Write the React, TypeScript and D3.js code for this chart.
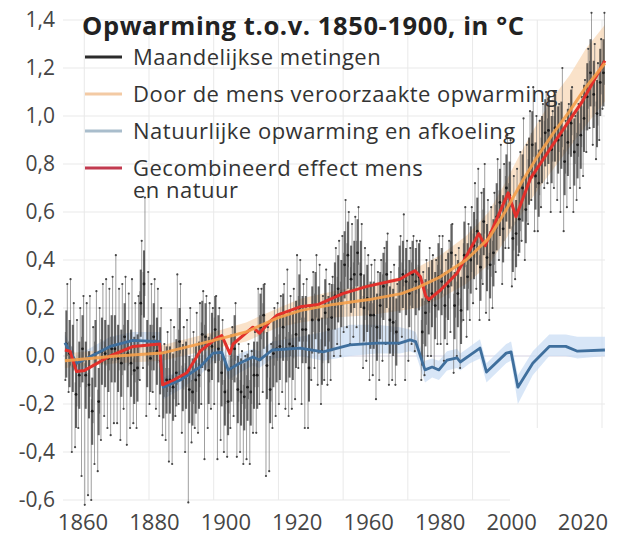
import React from "react";
import * as d3 from "d3";

const W = 617;
const H = 535;
const FONT = "'Open Sans', sans-serif";

// as/ticks
const yTicks = [1.4, 1.2, 1.0, 0.8, 0.6, 0.4, 0.2, 0, -0.2, -0.4, -0.6];
const gridYears = [1860, 1880, 1900, 1920, 1940, 1960, 1980, 2000, 2020];
const xLabels = ["1860", "1880", "1900", "1920", "1960", "1980", "2000", "2020"];

// maandelijkse metingen, per jaar samengevat (vanaf 1854)
const firstYear = 1854;
const obsHi = [
  0.30, 0.32, 0.22, 0.15, 0.20, 0.25,
  0.22, 0.25, 0.12, 0.27, 0.20, 0.30, 0.32, 0.28, 0.33, 0.42,
  0.28, 0.30, 0.33, 0.26, 0.32, 0.22, 0.25, 0.48, 0.66, 0.35,
  0.30, 0.32, 0.28, 0.20, 0.05, 0.10, 0.15, 0.12, 0.34, 0.30,
  0.12, 0.15, 0.20, 0.10, 0.18, 0.22, 0.27, 0.25, 0.22, 0.20,
  0.25, 0.20, 0.15, 0.05, 0.02, 0.12, 0.22, 0.05, 0.02, 0.00,
  0.05, 0.02, 0.10, 0.28, 0.28, 0.30, 0.12, 0.05, 0.20, 0.22,
  0.25, 0.30, 0.36, 0.25, 0.28, 0.42, 0.40, 0.30, 0.32, 0.20,
  0.35, 0.42, 0.38, 0.25, 0.36, 0.30, 0.33, 0.45, 0.48, 0.50,
  0.65, 0.60, 0.55, 0.58, 0.62, 0.55, 0.45, 0.42, 0.38, 0.40,
  0.35, 0.40, 0.45, 0.51, 0.35, 0.38, 0.30, 0.50, 0.59, 0.48,
  0.45, 0.50, 0.48, 0.48, 0.35, 0.40, 0.45, 0.42, 0.40, 0.50,
  0.50, 0.40, 0.48, 0.55, 0.42, 0.45, 0.38, 0.62, 0.55, 0.62,
  0.72, 0.78, 0.68, 0.80, 0.65, 0.62, 0.68, 0.82, 0.88, 0.80,
  0.92, 0.90, 0.75, 0.78, 0.85, 0.99, 0.88, 1.02, 1.12, 1.00,
  0.98, 1.05, 1.10, 1.08, 1.02, 1.10, 1.05, 1.20, 0.98, 1.05,
  1.12, 1.00, 1.05, 1.08, 1.15, 1.28, 1.43, 1.30, 1.22, 1.32, 1.43,
];
const obsLo = [
  -0.10, -0.15, -0.40, -0.38, -0.30, -0.50,
  -0.62, -0.58, -0.60, -0.45, -0.48, -0.35, -0.25, -0.30, -0.33, -0.28,
  -0.28, -0.35, -0.22, -0.37, -0.30, -0.28, -0.30, -0.10, -0.05, -0.25,
  -0.20, -0.15, -0.22, -0.25, -0.33, -0.35, -0.44, -0.45, -0.25, -0.20,
  -0.32, -0.40, -0.61, -0.36, -0.30, -0.32, -0.20, -0.43, -0.30, -0.22,
  -0.20, -0.43, -0.35, -0.40, -0.42, -0.30, -0.25, -0.42, -0.40, -0.45,
  -0.43, -0.45, -0.32, -0.32, -0.20, -0.15, -0.50, -0.48, -0.30, -0.25,
  -0.20, -0.15, -0.22, -0.25, -0.22, -0.18, -0.05, -0.20, -0.30, -0.30,
  -0.10, -0.05, -0.12, -0.20, -0.10, -0.12, -0.10, 0.00, 0.05, 0.00,
  0.10, 0.12, 0.05, 0.08, 0.12, 0.05, -0.05, -0.02, -0.10, -0.08,
  -0.18, -0.10, -0.02, 0.05, -0.12, -0.10, -0.12, 0.05, 0.08, -0.10,
  -0.02, 0.05, 0.02, 0.03, -0.10, -0.08, 0.00, 0.00, -0.05, 0.05,
  0.05, -0.02, 0.05, 0.10, -0.07, 0.00, -0.05, 0.15, 0.08, 0.15,
  0.22, 0.28, 0.15, 0.30, 0.18, 0.15, 0.20, 0.35, 0.40, 0.30,
  0.45, 0.45, 0.29, 0.32, 0.42, 0.48, 0.40, 0.55, 0.65, 0.52,
  0.52, 0.62, 0.70, 0.72, 0.60, 0.70, 0.65, 0.60, 0.52, 0.62,
  0.70, 0.60, 0.65, 0.70, 0.75, 0.85, 0.95, 0.88, 0.82, 0.90, 1.03,
];
const obsMid = [
  0.05, 0.01, -0.01, -0.16, -0.08, 0.03,
  -0.08, -0.12, -0.23, 0.01, -0.19, 0.02, 0.01, -0.01, 0.03, 0.03,
  -0.01, -0.03, 0.08, 0.01, -0.03, -0.06, -0.05, 0.22, 0.30, 0.01,
  -0.01, 0.08, 0.02, -0.02, -0.12, -0.10, -0.10, -0.13, -0.07, 0.06,
  -0.09, -0.08, -0.14, -0.15, -0.10, -0.08, 0.09, 0.08, -0.06, 0.04,
  0.11, 0.03, -0.07, -0.15, -0.19, -0.05, 0.03, -0.14, -0.15, -0.17,
  -0.13, -0.15, -0.08, -0.08, 0.12, 0.17, -0.04, -0.14, 0.01, 0.03,
  0.04, 0.12, 0.03, 0.05, 0.04, 0.09, 0.20, 0.11, 0.11, -0.05,
  0.15, 0.21, 0.15, 0.02, 0.18, 0.11, 0.16, 0.25, 0.28, 0.26,
  0.38, 0.42, 0.32, 0.34, 0.43, 0.34, 0.20, 0.24, 0.17, 0.17,
  0.12, 0.21, 0.29, 0.34, 0.15, 0.14, 0.10, 0.32, 0.34, 0.31,
  0.26, 0.34, 0.31, 0.33, 0.10, 0.18, 0.23, 0.26, 0.21, 0.33,
  0.31, 0.21, 0.29, 0.43, 0.21, 0.26, 0.19, 0.42, 0.33, 0.40,
  0.46, 0.52, 0.37, 0.56, 0.41, 0.38, 0.43, 0.58, 0.64, 0.53,
  0.70, 0.67, 0.49, 0.51, 0.57, 0.70, 0.61, 0.77, 0.88, 0.75,
  0.72, 0.86, 0.93, 0.94, 0.86, 0.95, 0.90, 0.92, 0.81, 0.89,
  0.97, 0.85, 0.88, 0.92, 0.99, 1.08, 1.18, 1.09, 1.01, 1.14, 1.18,
];

// gecombineerd effect mens en natuur
const redYears = [
  1854.0, 1855.6, 1857.6, 1860.1, 1868.0, 1875.1, 1883.3, 1884.2, 1887.6, 1891.7,
  1895.8, 1900.9, 1902.5, 1905.0, 1906.0, 1912.1, 1914.1, 1917.1, 1919.6, 1926.7,
  1932.4, 1939.9, 1947.4, 1957.5, 1960.7, 1962.2, 1963.9, 1965.5, 1966.5, 1970.1,
  1975.2, 1981.9, 1983.9, 1991.0, 1993.4, 1997.9, 2006.8, 2013.9, 2020.9,
];
const redValues = [
  0.025, 0.02, -0.065, -0.06, 0.0, 0.04, 0.05, -0.12, -0.1, -0.07,
  0.02, 0.075, 0.085, 0.01, 0.05, 0.12, 0.095, 0.14, 0.17, 0.205,
  0.215, 0.26, 0.29, 0.32, 0.345, 0.355, 0.33, 0.25, 0.235, 0.275,
  0.345, 0.51, 0.46, 0.68, 0.58, 0.74, 0.92, 1.06, 1.23,
];

// natuurlijke opwarming en afkoeling
const blueYears = [
  1854.0, 1857.7, 1860.1, 1868.0, 1875.0, 1883.3, 1884.4, 1889.7, 1895.8, 1899.8,
  1902.5, 1904.5, 1908.0, 1912.1, 1914.1, 1918.1, 1926.7, 1933.8, 1942.1, 1950.4,
  1957.5, 1960.7, 1962.4, 1965.3, 1967.5, 1969.6, 1972.1, 1975.2, 1976.2, 1979.2,
  1982.3, 1984.3, 1990.4, 1991.9, 1994.0, 1998.6, 2003.7, 2008.8, 2012.4, 2020.9,
];
const blueValues = [
  0.055, -0.03, -0.015, 0.04, 0.065, 0.06, -0.13, -0.1, -0.045, 0.012,
  0.015, -0.058, -0.03, -0.004, -0.017, 0.025, 0.033, 0.017, 0.046, 0.054,
  0.054, 0.067, 0.06, -0.058, -0.046, -0.058, -0.017, -0.008, -0.025, 0.004,
  0.033, -0.067, 0.012, 0.017, -0.13, -0.03, 0.04, 0.04, 0.02, 0.025,
];
const blueLo = [
  0.02, -0.07, -0.05, 0.0, 0.03, 0.02, -0.18, -0.14, -0.08, -0.02,
  -0.02, -0.1, -0.07, -0.04, -0.05, -0.01, 0.0, -0.02, 0.0, 0.01,
  0.01, 0.02, 0.01, -0.11, -0.09, -0.1, -0.06, -0.05, -0.06, -0.03,
  -0.01, -0.11, -0.03, -0.02, -0.2, -0.08, 0.0, 0.0, -0.01, 0.0,
];
const blueHi = [
  0.09, 0.0, 0.02, 0.08, 0.1, 0.1, -0.09, -0.06, -0.01, 0.05,
  0.05, -0.02, 0.01, 0.03, 0.02, 0.06, 0.08, 0.1, 0.13, 0.13,
  0.12, 0.11, 0.1, -0.02, -0.01, -0.02, 0.02, 0.03, 0.01, 0.04,
  0.07, -0.03, 0.05, 0.06, -0.08, 0.02, 0.09, 0.09, 0.08, 0.08,
];

// door de mens veroorzaakte opwarming
const orangeYears = [
  1854, 1870, 1884, 1900, 1910, 1920, 1927, 1937, 1948, 1958,
  1963, 1970, 1978, 1985, 1990, 1995, 2000, 2005, 2010, 2015, 2020.9,
];
const orangeValues = [
  -0.02, 0.0, 0.012, 0.065, 0.1, 0.16, 0.19, 0.215, 0.235, 0.26,
  0.285, 0.33, 0.4, 0.49, 0.6, 0.72, 0.83, 0.93, 1.02, 1.12, 1.22,
];
const orangeLo = [
  -0.05, -0.03, -0.02, 0.03, 0.06, 0.12, 0.14, 0.16, 0.17, 0.19,
  0.2, 0.24, 0.3, 0.38, 0.48, 0.59, 0.69, 0.78, 0.87, 0.96, 1.06,
];
const orangeHi = [
  0.01, 0.03, 0.045, 0.1, 0.14, 0.2, 0.24, 0.27, 0.3, 0.33,
  0.37, 0.42, 0.5, 0.6, 0.72, 0.85, 0.97, 1.08, 1.17, 1.28, 1.38,
];

const legendLabels = [
  ["Maandelijkse metingen"],
  ["Door de mens veroorzaakte opwarming"],
  ["Natuurlijke opwarming en afkoeling"],
  ["Gecombineerd effect mens", "en natuur"],
];
const legendColors = ["#2b2b2b", "#f3caa4", "#a9bdcc", "#c23a4f"];

const App = () => {
  const x = d3.scaleLinear().domain([1880, 2020]).range([149, 602]);
  const y = d3.scaleLinear().domain([-0.6, 1.4]).range([500, 20]);
  const xLab = d3.scalePoint().domain(xLabels).range([83, 583]);

  const line = d3
    .line<[number, number]>()
    .x((d) => x(d[0]))
    .y((d) => y(d[1]));
  const band = d3
    .area<[number, number, number]>()
    .x((d) => x(d[0]))
    .y0((d) => y(d[1]))
    .y1((d) => y(d[2]));

  const red = redYears.map((t, i) => [t, redValues[i]] as [number, number]);
  const blue = blueYears.map((t, i) => [t, blueValues[i]] as [number, number]);
  const orange = orangeYears.map((t, i) => [t, orangeValues[i]] as [number, number]);
  const blueBand = blueYears.map((t, i) => [t, blueLo[i], blueHi[i]] as [number, number, number]);
  const orangeBand = orangeYears.map(
    (t, i) => [t, orangeLo[i], orangeHi[i]] as [number, number, number]
  );

  const obs = obsMid.map((m, i) => ({
    year: firstYear + i,
    mid: m,
    hi: obsHi[i],
    lo: obsLo[i],
  }));

  return (
    <svg
      width={W}
      height={H}
      style={{ position: "absolute", left: 0, top: 0, background: "#fff" }}
      fontFamily={FONT}
    >
      {/* gridlines */}
      <g>
        {yTicks.map((t) => (
          <line
            key={"gy" + t}
            x1={63}
            x2={t <= -0.4 ? 510 : 605}
            y1={y(t)}
            y2={y(t)}
            stroke={t === 0 ? "#d6d3e2" : "#e9e9e9"}
            strokeWidth={1}
          />
        ))}
        {gridYears.map((g) => (
          <line
            key={"gx" + g}
            x1={x(g)}
            x2={x(g)}
            y1={y(1.4)}
            y2={g >= 2000 ? y(-0.3) : y(-0.6)}
            stroke="#e9e9e9"
            strokeWidth={1}
          />
        ))}
      </g>

      {/* onzekerheidsbanden */}
      <path d={band(blueBand) || ""} fill="#c7dbf3" opacity={0.7} />
      <path d={band(orangeBand) || ""} fill="#f8d6b2" opacity={0.7} />

      {/* metingen */}
      <g>
        {obs.map((d) => (
          <g key={d.year}>
            <line
              x1={x(d.year + 0.15)}
              x2={x(d.year + 0.15)}
              y1={y(d.lo)}
              y2={y(d.mid + 0.05)}
              stroke="#707070"
              strokeWidth={0.9}
              opacity={0.75}
            />
            <line
              x1={x(d.year + 0.75)}
              x2={x(d.year + 0.75)}
              y1={y(d.mid - 0.05)}
              y2={y(d.hi)}
              stroke="#707070"
              strokeWidth={0.9}
              opacity={0.75}
            />
            <line
              x1={x(d.year + 0.45)}
              x2={x(d.year + 0.45)}
              y1={y(Math.max(d.lo, d.mid - 0.14))}
              y2={y(Math.min(d.hi, d.mid + 0.14))}
              stroke="#262626"
              strokeWidth={2}
              opacity={0.7}
            />
            <circle cx={x(d.year + 0.15)} cy={y(d.lo)} r={1.1} fill="#444" />
            <circle cx={x(d.year + 0.75)} cy={y(d.hi)} r={1.1} fill="#444" />
            <circle cx={x(d.year + 0.45)} cy={y(d.mid)} r={1.4} fill="#1a1a1a" />
          </g>
        ))}
      </g>

      {/* lijnen */}
      <path d={line(blue) || ""} fill="none" stroke="#3f6f9d" strokeWidth={2.8} strokeLinejoin="round" />
      <path d={line(red) || ""} fill="none" stroke="#e2302b" strokeWidth={3} strokeLinejoin="round" />
      <path d={line(orange) || ""} fill="none" stroke="#f5a04a" strokeWidth={3} strokeLinejoin="round" opacity={0.9} />

      {/* y-as */}
      <g fontSize={21} fill="#454545" textAnchor="end">
        {yTicks.map((t) => (
          <text key={"yl" + t} x={55} y={y(t)} dy="0.35em">
            {d3.format(".1f")(t).replace("−", "-").replace(".", ",")}
          </text>
        ))}
      </g>

      {/* x-as */}
      <g fontSize={22} fill="#454545" textAnchor="middle">
        {xLabels.map((l) => (
          <text key={"xl" + l} x={xLab(l)} y={522} dy="0.35em">
            {l}
          </text>
        ))}
      </g>

      {/* titel en legenda */}
      <text x={82} y={35} fontSize={25.5} fontWeight={700} fill="#222" letterSpacing={0.6}>
        Opwarming t.o.v. 1850-1900, in °C
      </text>
      <g>
        {legendLabels.map((lines, i) => {
          const ly = 57 + i * 37;
          return (
            <g key={"lg" + i}>
              <line x1={85} x2={122} y1={ly} y2={ly} stroke={legendColors[i]} strokeWidth={3} />
              <text x={133} y={ly} dy="0.35em" fontSize={22} letterSpacing={0.5} fill="#333">
                {lines.map((s, j) => (
                  <tspan key={j} x={133} dy={j === 0 ? "0.35em" : 22}>
                    {s}
                  </tspan>
                ))}
              </text>
            </g>
          );
        })}
      </g>
    </svg>
  );
};

export default App;
